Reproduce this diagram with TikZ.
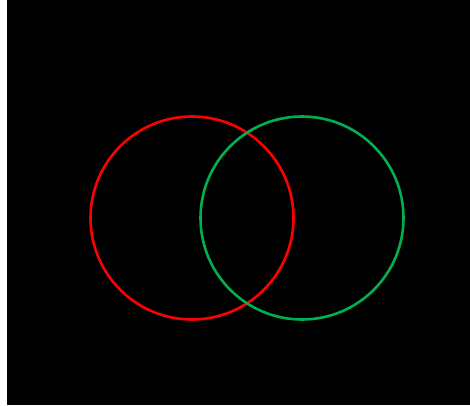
\documentclass[tikz,border=0pt]{standalone}
\begin{document}
\begin{tikzpicture}[x=1pt,y=-1pt,
  ring/.style={line width=2.6pt,circle,minimum size=203pt,inner sep=0pt}]
\definecolor{redc}{RGB}{255,0,0}
\definecolor{greenc}{RGB}{0,176,80}
\useasboundingbox (0,0) rectangle (470,405);
\fill[white] (0,0) rectangle (470,405);
\fill[black] (7,0) rectangle (470,405);
\node[draw=redc,ring] (red) at (192,218) {};
\node[draw=greenc,ring] (green) at (302,218) {};
\end{tikzpicture}
\end{document}
